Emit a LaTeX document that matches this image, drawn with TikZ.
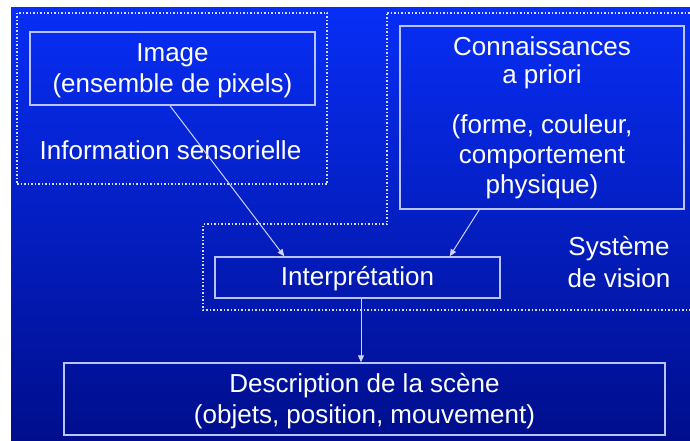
\documentclass[tikz,border=0pt]{standalone}
\usepackage{fontspec}
\setmainfont{Liberation Sans}
\usetikzlibrary{arrows.meta}
\definecolor{bgtop}{RGB}{8,46,245}
\definecolor{bgbot}{RGB}{0,14,140}
\definecolor{boxline}{RGB}{185,195,255}
\definecolor{arrline}{RGB}{205,210,255}
\definecolor{dotline}{RGB}{215,220,255}
\tikzset{
  lbl/.style={text=white, font=\fontsize{26}{31}\selectfont, align=center, inner sep=0pt},
  solidbox/.style={draw=boxline, line width=1.5pt, minimum width=#1, inner sep=0pt},
  dotbox/.style={draw=dotline, line width=1.2pt, dash pattern=on 1.5pt off 2pt, inner sep=0pt},
  conn/.style={draw=arrline, line width=1pt, -{Triangle[length=7pt,width=6pt]}},
}
\begin{document}
\begin{tikzpicture}[x=1pt,y=-1pt]
\useasboundingbox (0,0) rectangle (690,441);
\fill[white] (0,0) rectangle (690,441);
\shade[top color=bgtop, bottom color=bgbot] (11,8) rectangle (690,441);

% dotted regions
\node[dotbox, minimum width=310pt, minimum height=171pt] (sens) at (172,98.5) {};
\begin{scope}
\clip (11,8) rectangle (690,441);
\coordinate (v1) at (387,13);
\coordinate (v2) at (700,13);
\coordinate (v3) at (700,310);
\coordinate (v4) at (203,310);
\coordinate (v5) at (203,224);
\coordinate (v6) at (387,224);
\draw[draw=dotline, line width=1.2pt, dash pattern=on 1.5pt off 2pt] (v1) -- (v2) -- (v3) -- (v4) -- (v5) -- (v6) -- cycle;
\end{scope}

% boxes
\node[solidbox=285pt, minimum height=73pt] (img) at (172.5,68.5) {};
\node[lbl] (imgtxt) at (172.5,71) {Image\\(ensemble de pixels)};
\node[lbl] (senstxt) at (170.5,150) {Information sensorielle};
\node[solidbox=284pt, minimum height=183pt] (kno) at (542,117.5) {};
\node[lbl] (knotxt) at (542,117.5)
  {Connaissances\\[-3pt]a priori\\[19pt](forme, couleur,\\[-1pt]comportement\\[-1pt]physique)};
\node[solidbox=285pt, minimum height=41pt] (interp) at (357.5,277.5) {};
\node[lbl] (interptxt) at (357.5,279) {Interprétation};
\node[lbl] (sysv) at (619,262) {Système\\[1pt]de vision};
\node[solidbox=601pt, minimum height=72pt] (desc) at (364.5,399) {};
\node[lbl] (desctxt) at (364.5,401.5) {Description de la scène\\(objets, position, mouvement)};

% connectors
\draw[conn] ([xshift=-2.5pt]img.south) -- ([xshift=70pt]interp.north west);
\draw[conn] ([xshift=80pt]kno.south west) -- ([xshift=-51pt]interp.north east);
\draw[conn] ([xshift=3.5pt]interp.south) -- ([xshift=3.5pt]interp.south |- desc.north);
\end{tikzpicture}
\end{document}
